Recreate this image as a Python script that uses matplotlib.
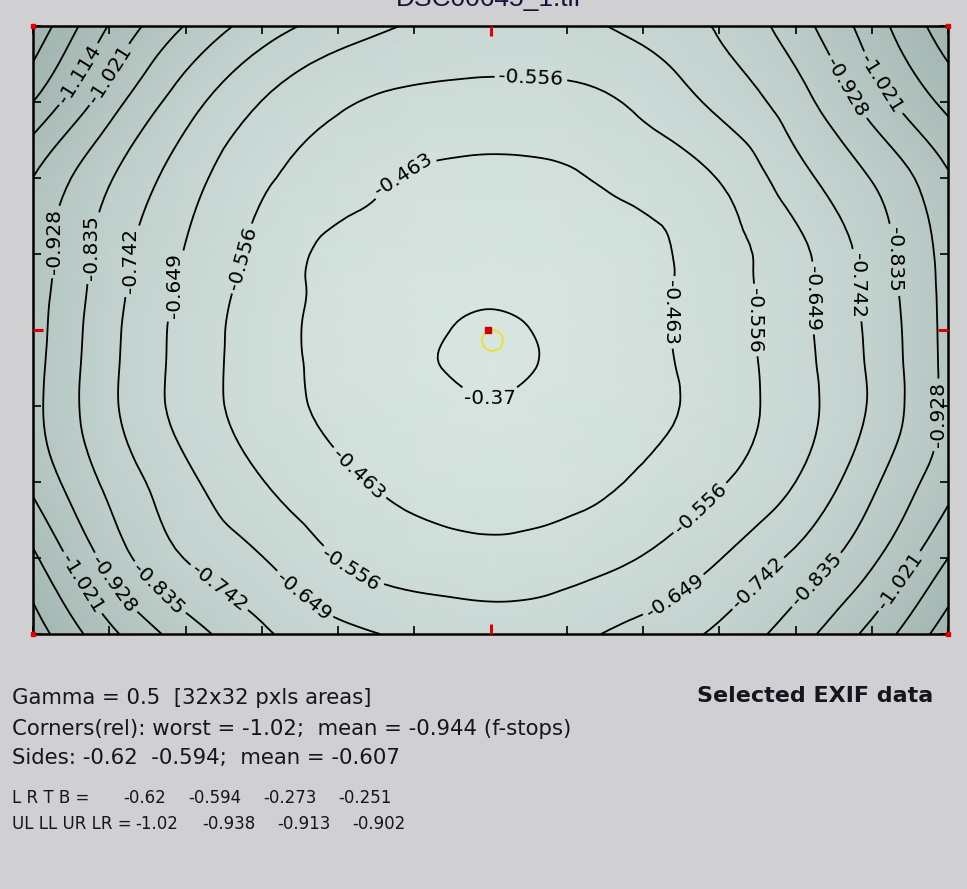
import numpy as np
import matplotlib.pyplot as plt
import matplotlib.tri as mtri
from matplotlib.colors import LinearSegmentedColormap

W, H = 967, 889

# grid node positions in image pixels (6000 x 4000 frame, y measured from the top)
x_nodes = [0, 500, 1000, 1500, 2000, 2500, 2750, 3000, 3250, 3500, 4000, 4500, 5000, 5500, 6000]
y_nodes = [0, 500, 1000, 1500, 1750, 2000, 2250, 2500, 3000, 3500, 4000]

# relative illumination (f-stops), one list per row of nodes, top row first
row_0 = [-1.37, -1.109, -0.924, -0.789, -0.701, -0.640, -0.625, -0.618, -0.618, -0.625, -0.679, -0.752, -0.886, -1.068, -1.26]
row_1 = [-1.207, -0.970, -0.783, -0.647, -0.568, -0.535, -0.529, -0.526, -0.527, -0.530, -0.576, -0.672, -0.794, -0.968, -1.14]
row_2 = [-1.02, -0.843, -0.690, -0.571, -0.507, -0.455, -0.445, -0.440, -0.443, -0.452, -0.496, -0.560, -0.705, -0.839, -1.01]
row_3 = [-0.99, -0.791, -0.644, -0.529, -0.436, -0.410, -0.400, -0.395, -0.400, -0.405, -0.437, -0.516, -0.620, -0.784, -0.96]
row_35 = [-0.975, -0.780, -0.628, -0.517, -0.432, -0.390, -0.383, -0.380, -0.384, -0.392, -0.439, -0.512, -0.619, -0.772, -0.958]
row_4 = [-0.968, -0.770, -0.617, -0.508, -0.430, -0.386, -0.369, -0.358, -0.369, -0.388, -0.441, -0.510, -0.619, -0.763, -0.957]
row_45 = [-0.96, -0.765, -0.615, -0.507, -0.433, -0.382, -0.365, -0.353, -0.366, -0.388, -0.438, -0.505, -0.613, -0.757, -0.955]
row_5 = [-0.955, -0.763, -0.615, -0.509, -0.440, -0.400, -0.386, -0.375, -0.387, -0.402, -0.436, -0.503, -0.609, -0.754, -0.955]
row_6 = [-1.0, -0.813, -0.672, -0.560, -0.482, -0.440, -0.425, -0.420, -0.425, -0.432, -0.478, -0.548, -0.649, -0.815, -0.99]
row_7 = [-1.133, -0.895, -0.739, -0.652, -0.553, -0.507, -0.497, -0.490, -0.495, -0.512, -0.560, -0.645, -0.761, -0.910, -1.114]
row_8 = [-1.255, -1.046, -0.882, -0.758, -0.678, -0.632, -0.620, -0.612, -0.615, -0.625, -0.685, -0.761, -0.886, -1.051, -1.258]

levels = [-1.3, -1.207, -1.114, -1.021, -0.928, -0.835, -0.742, -0.649, -0.556, -0.463, -0.37]

# where the labels sit in the reference (screen pixels)
label_px = [
    (531, 78), (404, 176), (80, 75), (110, 75),
    (60, 242), (93, 248), (131, 261), (171, 285), (240, 258),
    (857, 82), (887, 80),
    (680, 312), (758, 320), (812, 298), (858, 285), (893, 260), (938, 415),
    (490, 398),
    (355, 478), (352, 568), (300, 600), (215, 593), (160, 587), (115, 583), (82, 583),
    (700, 508), (677, 600), (762, 587), (820, 583), (905, 585),
]

ax_l, ax_t, ax_r, ax_b = 33, 26, 948, 634


def to_data(px, py):
    # screen pixel -> data coords (y up)
    return ((px - ax_l) / (ax_r - ax_l) * 6000, 4000 - (py - ax_t) / (ax_b - ax_t) * 4000)


Z = np.array([row_0, row_1, row_2, row_3, row_35, row_4, row_45, row_5, row_6, row_7, row_8])
X, Yt = np.meshgrid(x_nodes, y_nodes)
Y = 4000 - Yt

bg = '#d0cfd1'
fig = plt.figure(figsize=(W / 100, H / 100), dpi=100, facecolor=bg)
ax = fig.add_axes([ax_l / W, 1 - ax_b / H, (ax_r - ax_l) / W, (ax_b - ax_t) / H])

cmap = LinearSegmentedColormap.from_list('vig', ['#9fb3af', '#bfcfcb', '#d8e5e1'])
ax.pcolormesh(X, Y, Z, shading='gouraud', cmap=cmap, vmin=-1.3, vmax=-0.35)

# smooth contour drawing on a refined triangulation of the read grid
tri = mtri.Triangulation(X.ravel(), Y.ravel())
refiner = mtri.UniformTriRefiner(tri)
tri_f, z_f = refiner.refine_field(Z.ravel(), subdiv=3)
cs = ax.tricontour(tri_f, z_f, levels=levels, colors='black', linewidths=1.3, linestyles='solid')


def fmt(v):
    return ('%.3f' % v).rstrip('0')


texts = ax.clabel(cs, manual=[to_data(*p) for p in label_px], inline=True, inline_spacing=4,
                  fontsize=14.5, fmt=fmt, colors='black')

# vertical labels: left side reads upward, right side downward (except the edge one)
for t in texts:
    r = t.get_rotation() % 360
    if 75 < r < 105 or 255 < r < 285:
        x = t.get_position()[0]
        t.set_rotation(90 if (x < 3000 or x > 5800) else 270)

ax.set_xlim(0, 6000)
ax.set_ylim(0, 4000)
ax.set_xticks(range(0, 6001, 500))
ax.set_yticks(range(0, 4001, 500))
ax.tick_params(direction='in', length=6, width=1.2, top=True, right=True,
               labelbottom=False, labelleft=False)
for s in ax.spines.values():
    s.set_linewidth(1.8)

# red centre ticks and corners
for x, y, m in [(3000, 4000, 3), (3000, 0, 2), (0, 2000, 1), (6000, 2000, 0)]:
    ax.plot(x, y, marker=m, color='#e00000', ms=7, mew=2.2, clip_on=False, zorder=5)
for x, y in [(0, 0), (6000, 0), (0, 4000), (6000, 4000)]:
    ax.plot(x, y, marker='s', color='#e00000', ms=2.5, clip_on=False, zorder=5)

# brightest-spot markers
ax.plot(*to_data(492, 340), marker='o', ms=15, mfc='none', mec='#e8e040', mew=1.5, zorder=6)
ax.plot(*to_data(488, 330), marker='s', ms=4, color='#d00000', zorder=7)

txt = '#15151f'
fig.text(489 / W, 1 - 6 / H, 'DSC00645_1.tif', ha='center', va='baseline',
         fontsize=19, color='#14143a', family='Liberation Sans')

fig.text(12 / W, 1 - 698 / H, 'Gamma = 0.5  [32x32 pxls areas]', va='center', fontsize=15.3, color=txt)
fig.text(12 / W, 1 - 729 / H, 'Corners(rel): worst = -1.02;  mean = -0.944 (f-stops)', va='center',
         fontsize=15.3, color=txt)
fig.text(12 / W, 1 - 758 / H, 'Sides: -0.62  -0.594;  mean = -0.607', va='center', fontsize=15.3, color=txt)

fig.text(12 / W, 1 - 798 / H, 'L R T B =', va='center', fontsize=12, color=txt)
fig.text(12 / W, 1 - 824 / H, 'UL LL UR LR =', va='center', fontsize=12, color=txt)
lrtb = ['-0.62', '-0.594', '-0.273', '-0.251']
corners = ['-1.02', '-0.938', '-0.913', '-0.902']
for x, s in zip([123, 188, 263, 338], lrtb):
    fig.text(x / W, 1 - 798 / H, s, va='center', fontsize=12, color=txt)
for x, s in zip([135, 202, 277, 352], corners):
    fig.text(x / W, 1 - 824 / H, s, va='center', fontsize=12, color=txt)

fig.text(697 / W, 1 - 696 / H, 'Selected EXIF data', va='center', fontsize=16,
         fontweight='bold', color=txt)

fig.savefig('out.png', dpi=100, facecolor=bg)
